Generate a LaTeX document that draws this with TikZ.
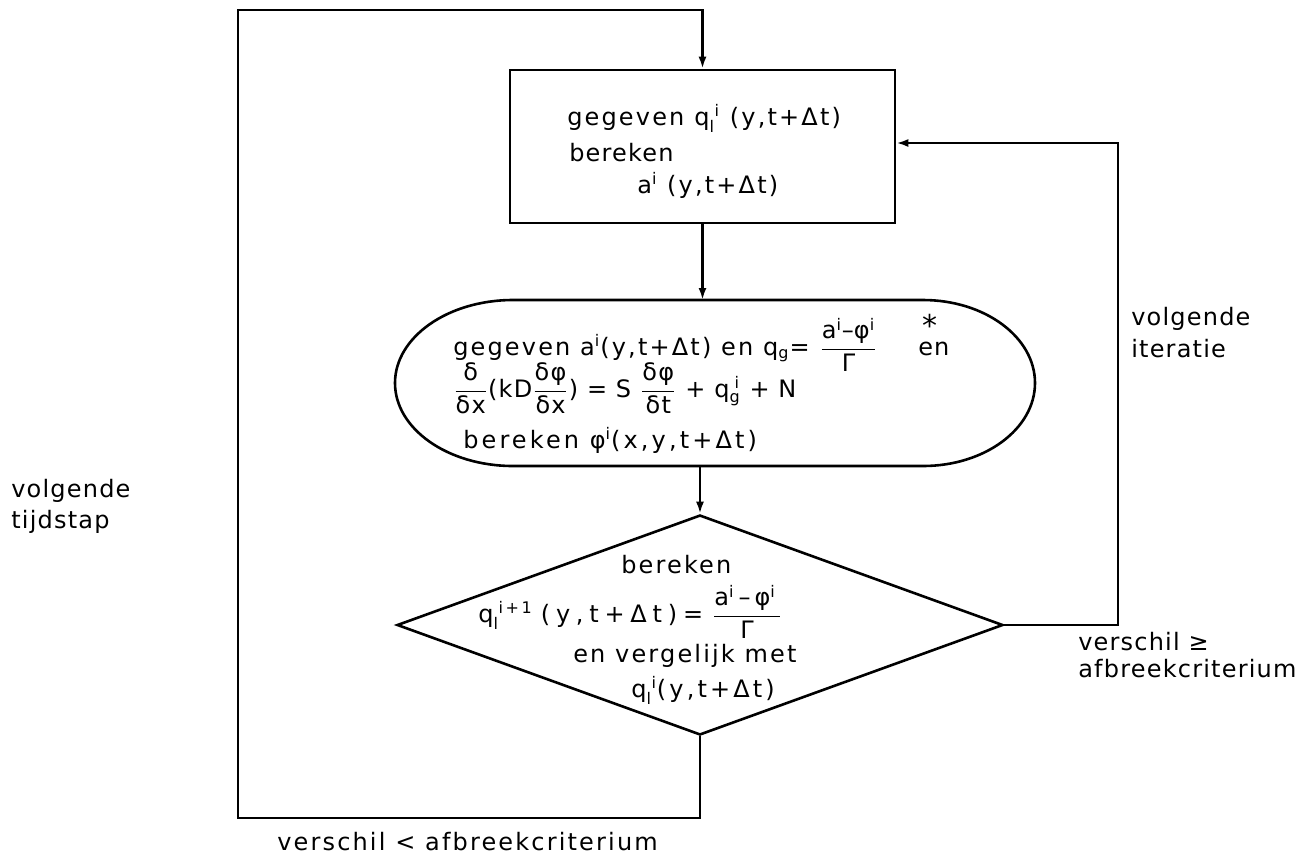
\documentclass[tikz,border=0pt]{standalone}
\usepackage{fontspec}
\usepackage{amsmath}
\setmainfont{DejaVu Sans}[LetterSpace=5]
\newfontfamily\widefont{DejaVu Sans}[LetterSpace=9]
\newfontfamily\midfont{DejaVu Sans}[LetterSpace=13]
\newfontfamily\vwidefont{DejaVu Sans}[LetterSpace=24]
\usetikzlibrary{shapes.geometric,arrows.meta,calc}
\newcommand{\sbsp}[2]{\ensuremath{_{\text{#1}}^{\hspace{2.5pt}\text{#2}}}}
\newcommand{\spx}[1]{\ensuremath{^{\text{#1}}}}
\newcommand{\sbx}[1]{\ensuremath{_{\text{#1}}}}
\newcommand{\fr}[2]{\ensuremath{\dfrac{\text{#1}}{\text{#2}}}}
\newcommand{\afr}{\ensuremath{\dfrac{\text{a}^{\text{i}}\text{–}\text{φ}^{\text{i}}}{\text{Γ}}}}
\newcommand{\afrw}{\ensuremath{\dfrac{\text{a}^{\text{i}}\hspace{2pt}\text{–}\hspace{2pt}\text{φ}^{\text{i}}\hspace{2pt}}{\text{Γ}}}}
\begin{document}
\begin{tikzpicture}[x=0.5pt,y=-0.5pt,line width=1.3pt,
  lbl/.style={font=\fontsize{12}{14}\selectfont,inner sep=0pt,anchor=base west},
  lblw/.style={lbl,font=\fontsize{12}{14}\selectfont\widefont},
  lblm/.style={lbl,font=\fontsize{12}{14}\selectfont\midfont},
  arr/.style={-{Latex[length=6pt,width=4pt]}}]
\useasboundingbox (0,0) rectangle (1314,859);
% shapes
\node[draw,minimum width=192.5pt,minimum height=76.5pt,inner sep=0pt] (box) at (702.5,146.5) {};
\node[minimum width=320pt,minimum height=83pt,inner sep=0pt,outer sep=0pt] (stad) at (715,383) {};
\draw (923,300) arc[start angle=-90,end angle=90,x radius=112,y radius=83]
  -- (513,466) arc[start angle=90,end angle=270,x radius=118,y radius=83] -- cycle;
\node[draw,diamond,shape aspect=2.75,minimum width=303pt,minimum height=110pt,inner sep=0pt] (dia) at (700,625) {};
% connectors
\coordinate (bl) at (238,818);
\coordinate (tl) at (238,10);
\coordinate (rc) at (1118,143);
\draw[arr] (dia.south) |- (bl) -- (tl) -| (box.north);
\draw[arr] (box.south) -- (box.south |- stad.north);
\draw[arr] (dia.north |- stad.south) -- (dia.north);
\draw[arr] (dia.east) -| (rc) -- (rc -| box.east);
% box text
\node[lblw] (b1) at (566,125) {gegeven\hspace{5pt}q\sbsp{l}{i} (y,t+Δt)};
\node[lbl] (b2) at (568,161) {bereken};
\node[lblw] (b3) at (636,193) {a\spx{i} (y,t+Δt)};
% stadium text
\node[lblw] (s1) at (452,355) {gegeven a\spx{i}(y,t+Δt) en q\sbx{g}= \afr};
\node[lbl] (s1e) at (917,355) {en};
\node[font=\fontsize{15}{15}\selectfont,inner sep=0pt,anchor=base] (star) at (930,336) {*};
\node[lbl] (s2) at (452,397) {\fr{δ}{δx}(kD\fr{δφ}{δx}) = S \fr{δφ}{δt} + q\sbsp{g}{i} + N};
\node[lblm] (s3) at (462,448) {bereken φ\spx{i}(x,y,t+Δt)};
% diamond text
\node[lblw] (d1) at (620,573) {bereken};
\node[lbl] (d2) at (477,622) {q\sbsp{l}{i\,+\,1}\hspace{4pt}{\vwidefont(y,t+Δt)}\hspace{3pt}= \afrw};
\node[lblw] (d3) at (572,662) {en vergelijk met};
\node[lblm] (d4) at (630,697) {q\sbsp{l}{i}(y,t+Δt)};
% labels
\node[lbl] (lt1) at (10,497) {volgende};
\node[lbl] (lt2) at (10,528) {tijdstap};
\node[lbl] (ri1) at (1130,325) {volgende};
\node[lbl] (ri2) at (1130,357) {iteratie};
\node[lbl] (rv1) at (1077,650) {verschil ≥};
\node[lbl] (rv2) at (1077,677) {afbreekcriterium};
\node[lblw] (bv) at (276,850) {verschil < afbreekcriterium};
\end{tikzpicture}
\end{document}
